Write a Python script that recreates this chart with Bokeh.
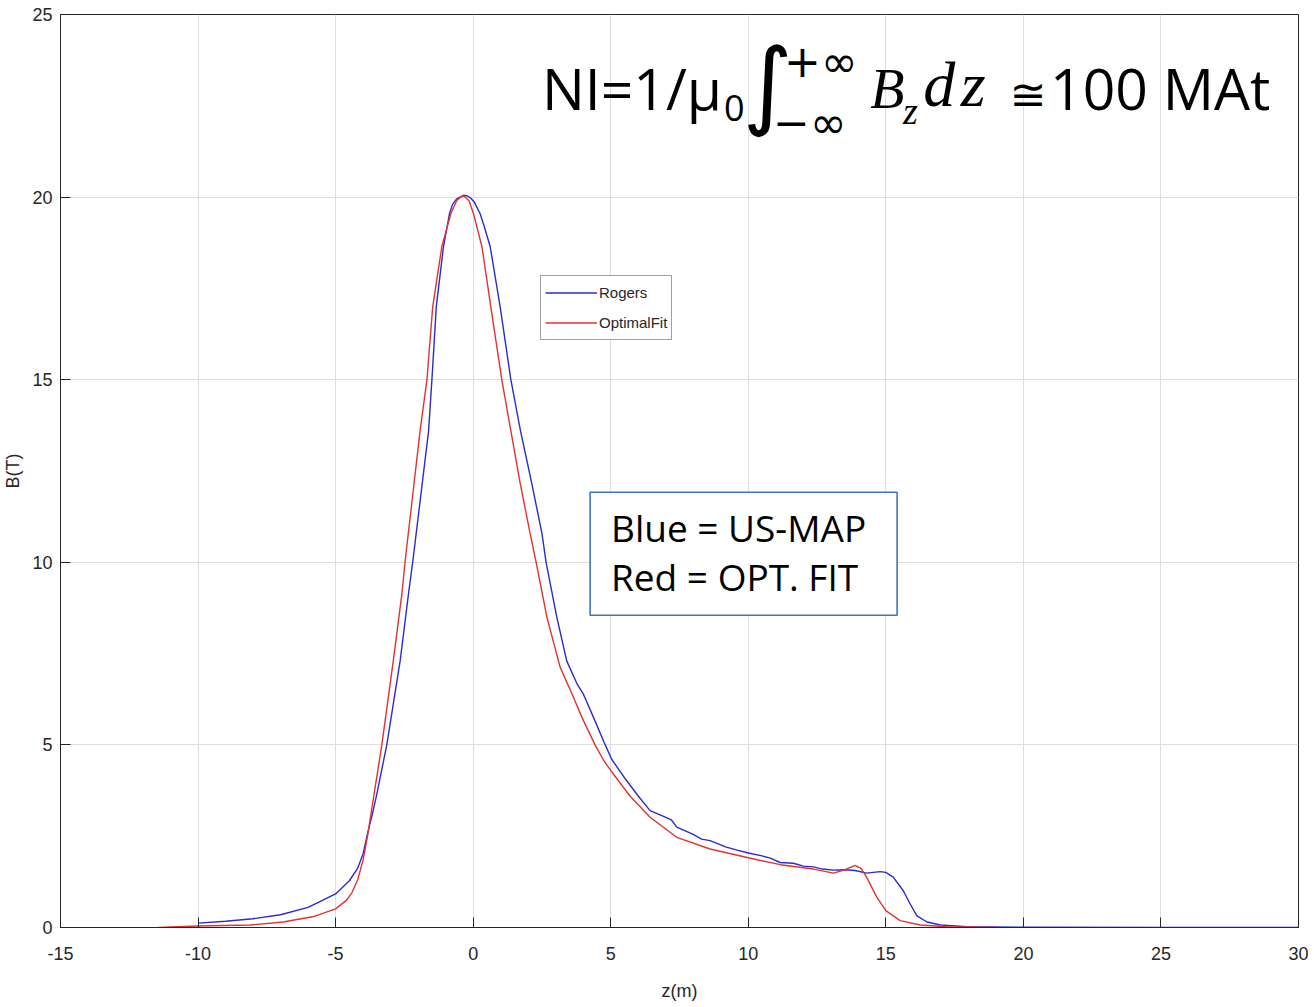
from bokeh.plotting import figure
from bokeh.models import (Label, BoxAnnotation, Legend, LegendItem, FixedTicker,
                          Range1d, CustomJSTickFormatter)
from bokeh.embed import file_html
from bokeh.resources import INLINE

# ---- data ----
rogers_z = [-10, -9, -8, -7, -6, -5, -4.5, -4.2, -4.0, -3.84, -3.65, -3.5, -3.14, -2.65, -2.35,
            -2.19, -1.62, -1.5, -1.34, -1.08, -0.86, -0.75, -0.6, -0.35, -0.2, -0.1, 0.05, 0.25,
            0.4, 0.62, 0.98, 1.37, 1.72, 2.13, 2.5, 2.65, 3.04, 3.4, 3.77, 4.0, 4.37, 4.8, 5.04,
            5.5, 6.0, 6.43, 6.9, 7.2, 7.4, 8.0, 8.3, 8.61, 9.2, 9.6, 10.0, 10.5, 10.8, 11.16,
            11.64, 12.0, 12.37, 12.7, 13.1, 13.5, 13.88, 14.3, 14.79, 15.0, 15.27, 15.64, 15.88,
            16.13, 16.5, 16.98, 17.95, 20.0, 25.0, 30.0]
rogers_b = [0.12, 0.17, 0.24, 0.35, 0.55, 0.92, 1.28, 1.62, 2.02, 2.57, 3.15, 3.66, 5.0, 7.32,
            9.14, 10.05, 13.6, 15.0, 17.0, 18.64, 19.55, 19.8, 19.95, 20.05, 20.03, 19.98, 19.85,
            19.55, 19.2, 18.64, 17.0, 15.0, 13.6, 12.16, 10.79, 10.0, 8.5, 7.3, 6.68, 6.4, 5.76,
            5.0, 4.6, 4.1, 3.6, 3.2, 3.05, 2.95, 2.75, 2.55, 2.42, 2.38, 2.2, 2.12, 2.04, 1.96,
            1.9, 1.78, 1.76, 1.68, 1.66, 1.6, 1.57, 1.58, 1.56, 1.49, 1.53, 1.51, 1.38, 1.0, 0.65,
            0.32, 0.15, 0.07, 0.02, 0.01, 0.0, 0.0]

fit_z = [-11.45, -10, -8.1, -6.9, -5.8, -5, -4.6, -4.41, -4.2, -4.0, -3.84, -3.6, -3.32, -2.9,
         -2.59, -2.47, -1.93, -1.68, -1.47, -1.14, -0.81, -0.6, -0.37, -0.15, 0.01, 0.32, 0.64,
         1.04, 1.37, 1.71, 2.07, 2.29, 2.68, 3.16, 3.59, 3.95, 4.43, 4.74, 5.0, 5.7, 6.43, 7.4,
         8.61, 10.0, 11.16, 12.37, 13.1, 13.5, 13.88, 14.1, 14.3, 14.67, 15.0, 15.52, 16.25,
         17.2, 19.0]
fit_b = [0.0, 0.04, 0.07, 0.15, 0.3, 0.51, 0.75, 0.95, 1.3, 1.85, 2.5, 3.66, 5.0, 7.32, 9.14,
         10.05, 13.6, 15.0, 17.0, 18.64, 19.55, 19.9, 20.05, 19.9, 19.55, 18.64, 17.0, 15.0,
         13.6, 12.16, 10.79, 10.0, 8.5, 7.13, 6.4, 5.76, 5.0, 4.58, 4.3, 3.6, 3.02, 2.47, 2.15,
         1.91, 1.72, 1.6, 1.49, 1.58, 1.70, 1.62, 1.38, 0.83, 0.46, 0.19, 0.07, 0.02, 0.0]

x_ticks = [-15, -10, -5, 0, 5, 10, 15, 20, 25, 30]
y_ticks = [0, 5, 10, 15, 20, 25]

AX = "#262626"
BLUE = "#2b2bd0"
RED = "#e23232"

p = figure(width=1308, height=1005, output_backend="svg", toolbar_location=None,
           x_range=Range1d(-15, 30), y_range=Range1d(0, 25),
           min_border_left=60, min_border_right=10, min_border_top=14, min_border_bottom=78)
p.background_fill_color = "white"
p.outline_line_color = AX
p.outline_line_width = 1

r1 = p.line(rogers_z, rogers_b, line_color=BLUE, line_width=1.4)
r2 = p.line(fit_z, fit_b, line_color=RED, line_width=1.4)

for ax in (p.xaxis[0], p.yaxis[0]):
    ax.major_tick_in = 10
    ax.major_tick_out = 0
    ax.minor_tick_in = 0
    ax.minor_tick_out = 0
    ax.axis_line_color = AX
    ax.major_tick_line_color = AX
    ax.major_label_text_color = AX
    ax.major_label_text_font = "Liberation Sans"
    ax.major_label_text_font_size = "18px"
    ax.axis_label_text_font = "Liberation Sans"
    ax.axis_label_text_font_size = "18px"
    ax.axis_label_text_font_style = "normal"
    ax.axis_label_text_color = AX
    ax.formatter = CustomJSTickFormatter(code="return tick.toFixed(0);")

p.xaxis.ticker = FixedTicker(ticks=x_ticks)
p.yaxis.ticker = FixedTicker(ticks=y_ticks)
p.xaxis.axis_label = "z(m)"
p.yaxis.axis_label = "B(T)"
p.xaxis.major_label_standoff = 19
p.xaxis.axis_label_standoff = 18
p.yaxis.major_label_standoff = 8
p.yaxis.axis_label_standoff = 6

p.xgrid.ticker = FixedTicker(ticks=x_ticks)
p.ygrid.ticker = FixedTicker(ticks=y_ticks)
p.grid.grid_line_color = "#dedede"
p.grid.grid_line_width = 1

# legend
legend = Legend(items=[LegendItem(label="Rogers", renderers=[r1]),
                       LegendItem(label="OptimalFit", renderers=[r2])],
                location=(480, 587))
legend.border_line_color = "#404040"
legend.border_line_width = 1
legend.background_fill_color = "white"
legend.padding = 4
legend.margin = 0
legend.spacing = 5
legend.glyph_width = 52
legend.glyph_height = 25
legend.label_height = 25
legend.label_standoff = 2
legend.label_text_font = "Liberation Sans"
legend.label_text_font_size = "15px"
legend.label_text_color = AX
p.add_layout(legend, "center")

# formula annotation
def lab(x, y, text, font="Open Sans", size="54px", style="normal", baseline="alphabetic"):
    p.add_layout(Label(x=x, y=y, text=text, text_font=font, text_font_size=size,
                       text_font_style=style, text_baseline=baseline, text_align="left",
                       text_color="black"))

lab(2.50, 22.99, "NI=1/\u03bc", size="57px")
lab(9.12, 22.45, "0", size="36px")
lab(9.80, 23.10, "\u222b", font="DejaVu Sans", size="96px", baseline="middle")
lab(11.30, 23.72, "+\u221e", font="DejaVu Sans", size="44px", baseline="middle")
lab(10.90, 22.05, "\u2212\u221e", font="DejaVu Sans", size="44px", baseline="middle")
lab(14.43, 22.95, "B", font="Liberation Serif", size="56px", style="italic")
lab(15.62, 22.36, "z", font="Liberation Serif", size="38px", style="italic")
lab(16.36, 23.07, "d", font="Liberation Serif", size="64px", style="italic")
lab(17.72, 23.07, "z", font="Liberation Serif", size="64px", style="italic")
lab(19.50, 22.82, "\u2245", font="DejaVu Sans", size="44px")
lab(20.97, 22.99, "100 MAt", size="57px")

# text box
p.add_layout(BoxAnnotation(left=4.25, right=15.41, bottom=8.55, top=11.92,
                           fill_color="white", fill_alpha=1.0,
                           line_color="#4472c4", line_alpha=1.0, line_width=1.6))
lab(5.01, 10.94, "Blue = US-MAP", size="37px")
lab(5.01, 9.60, "Red = OPT. FIT", size="37px")

open("out.html", "w").write(file_html(p, INLINE))
